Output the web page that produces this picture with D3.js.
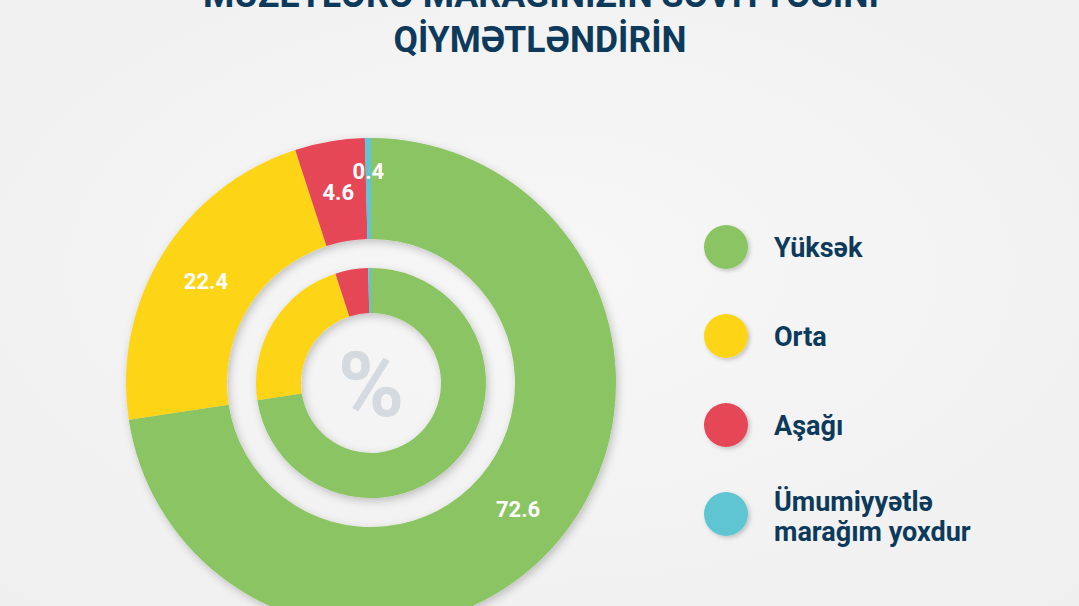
<!DOCTYPE html>
<html>
<head>
<meta charset="utf-8">
<script src="https://cdn.jsdelivr.net/npm/d3@7"></script>
<style>
  html, body { margin: 0; padding: 0; background: #f3f3f4; }
  svg { display: block; }
</style>
</head>
<body>
<svg id="chart" width="1079" height="606"></svg>
<script>
// ---- data ----
const titleLines = ["MUZEYLƏRƏ MARAĞINIZIN SƏVİYYƏSİNİ", "QİYMƏTLƏNDİRİN"];
const categories = ["Yüksək", "Orta", "Aşağı", "Ümumiyyətlə marağım yoxdur"];
const legendLabels = [["Yüksək"], ["Orta"], ["Aşağı"], ["Ümumiyyətlə", "marağım yoxdur"]];
const values = [72.6, 22.4, 4.6, 0.4];
const valueLabels = ["72.6", "22.4", "4.6", "0.4"];
const colors = ["#8bc462", "#fdd414", "#e54657", "#5ec5d2"];
const centerSymbol = "%";

// ---- drawing ----
const W = 1079, H = 606;
const svg = d3.select("#chart");
const navy = "#0d3a5b";

const defs = svg.append("defs");
const bgGrad = defs.append("radialGradient").attr("id", "bg").attr("cx", "50%").attr("cy", "45%").attr("r", "75%");
bgGrad.append("stop").attr("offset", "0%").attr("stop-color", "#f7f7f8");
bgGrad.append("stop").attr("offset", "100%").attr("stop-color", "#efeff0");

const shadow = defs.append("filter").attr("id", "shadow")
  .attr("x", "-20%").attr("y", "-20%").attr("width", "140%").attr("height", "140%");
shadow.append("feDropShadow").attr("dx", 2).attr("dy", 3).attr("stdDeviation", 4)
  .attr("flood-color", "#000").attr("flood-opacity", 0.22);

const smallShadow = defs.append("filter").attr("id", "smallShadow")
  .attr("x", "-40%").attr("y", "-40%").attr("width", "180%").attr("height", "180%");
smallShadow.append("feDropShadow").attr("dx", 2).attr("dy", 2).attr("stdDeviation", 2)
  .attr("flood-color", "#000").attr("flood-opacity", 0.2);

svg.append("rect").attr("width", W).attr("height", H).attr("fill", "url(#bg)");

// title (first line is partly cut by the top edge, as in the reference)
const title = svg.append("g").attr("fill", navy)
  .attr("font-family", "Roboto, 'DejaVu Sans Condensed', sans-serif")
  .attr("font-weight", 700).attr("text-anchor", "middle");
title.append("text").attr("x", 541).attr("y", 7).attr("font-size", 36)
  .attr("textLength", 676).attr("lengthAdjust", "spacingAndGlyphs").text(titleLines[0]);
title.append("text").attr("x", 540).attr("y", 52).attr("font-size", 36)
  .attr("textLength", 293).attr("lengthAdjust", "spacingAndGlyphs").text(titleLines[1]);

// donut
const cx = 371, cy = 383;
const g = svg.append("g").attr("transform", `translate(${cx},${cy})`);

const pie = d3.pie().sort(null).value(d => d);
const arcs = pie(values);

const outerArc = d3.arc().innerRadius(144).outerRadius(245);
const innerArc = d3.arc().innerRadius(70).outerRadius(115);

const outerG = g.append("g").attr("filter", "url(#shadow)");
outerG.selectAll("path").data(arcs).join("path")
  .attr("d", outerArc).attr("fill", (d, i) => colors[i]);

const innerG = g.append("g").attr("filter", "url(#shadow)");
innerG.selectAll("path").data(arcs).join("path")
  .attr("d", innerArc).attr("fill", (d, i) => colors[i]);

// centre symbol
g.append("text").attr("x", 0).attr("y", 2)
  .attr("text-anchor", "middle").attr("dominant-baseline", "central")
  .attr("font-family", "Roboto, sans-serif").attr("font-weight", 700)
  .attr("font-size", 90).attr("fill", "#d4dadf").text(centerSymbol);

// value labels
const labelArcMain = d3.arc().innerRadius(194).outerRadius(194);
const labelArcSmall = d3.arc().innerRadius(212).outerRadius(212);
g.selectAll("text.val").data(arcs).join("text").attr("class", "val")
  .attr("transform", d => {
    const c = (d.value < 1 ? labelArcSmall : labelArcMain).centroid(d);
    return `translate(${c[0]},${c[1]})`;
  })
  .attr("text-anchor", "middle").attr("dy", "0.36em")
  .attr("font-family", "Roboto, sans-serif").attr("font-weight", 700)
  .attr("font-size", 22).attr("fill", "#ffffff")
  .text((d, i) => valueLabels[i]);

// legend
const legend = svg.append("g");
const legendY = d3.scalePoint().domain(d3.range(categories.length)).range([247, 514]);
const items = legend.selectAll("g").data(categories).join("g")
  .attr("transform", (d, i) => `translate(726,${legendY(i)})`);
items.append("circle").attr("r", 22).attr("fill", (d, i) => colors[i])
  .attr("filter", "url(#smallShadow)");
items.each(function(d, i) {
  const lines = legendLabels[i];
  const t = d3.select(this).append("text")
    .attr("x", 48).attr("fill", navy)
    .attr("font-family", "Roboto, sans-serif").attr("font-weight", 700)
    .attr("font-size", 27);
  const y0 = lines.length === 1 ? 10 : -3;
  lines.forEach((ln, k) => {
    t.append("tspan").attr("x", 48).attr("y", y0 + k * 30).text(ln);
  });
});
</script>
</body>
</html>
